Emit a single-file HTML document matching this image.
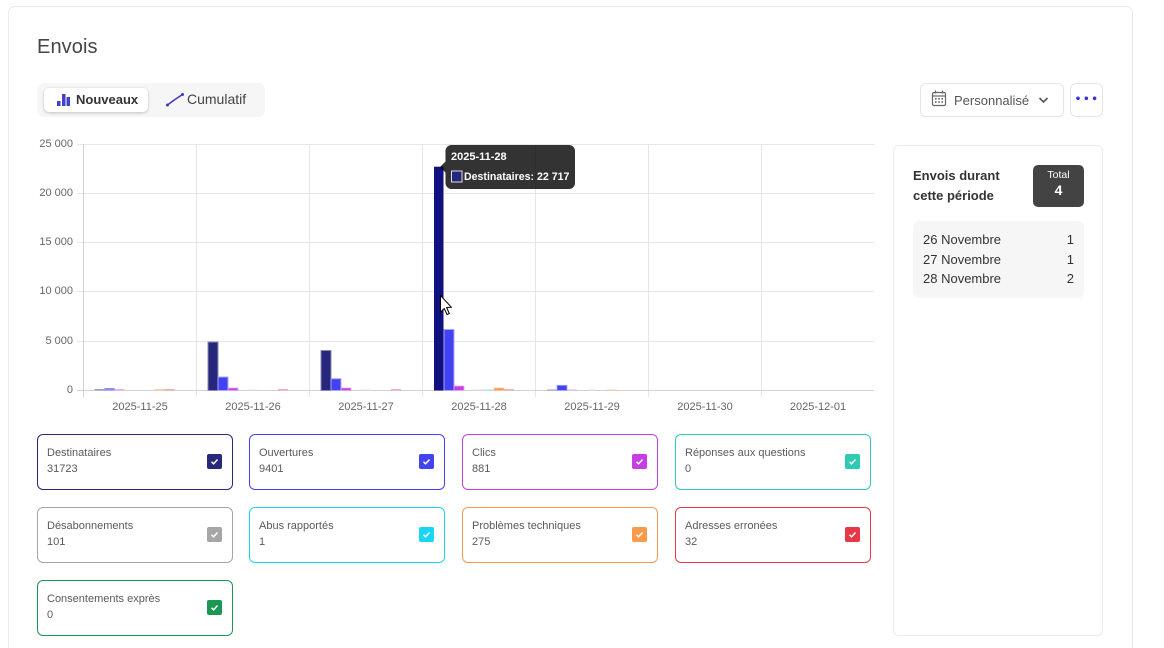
<!DOCTYPE html>
<html style="width:1164px;height:648px;overflow:hidden"><head><meta charset="utf-8">
<style>
*{box-sizing:border-box;margin:0;padding:0}
body{width:1164px;height:648px;background:#fff;font-family:"Liberation Sans",Arial,sans-serif;position:relative;overflow:hidden;color:#333}
.abs{position:absolute}
.card{left:8px;top:6px;width:1125px;height:642px;border:1px solid #ebebeb;border-bottom:none;border-radius:7px 7px 0 0;background:#fff}
.title{left:37px;top:36px;font-size:20px;color:#454545;letter-spacing:0.1px}
.toggle{left:37px;top:83px;width:228px;height:34px;background:#f6f6f7;border-radius:7px}
.active{left:44px;top:88px;width:104px;height:24px;background:#fff;border-radius:5px;box-shadow:0 1px 3px rgba(0,0,0,0.22)}
.lg{border:1px solid;border-radius:6px;width:196px;height:56px;background:#fff}
.lg .l{position:absolute;left:9px;top:12px;font-size:11px;color:#5a5a5a}
.lg .v{position:absolute;left:9px;top:28px;font-size:11px;color:#5a5a5a}
.lg .cb{position:absolute;left:169px;top:19px;width:15px;height:15px;border-radius:2px}
.lg .cb svg{position:absolute;left:0;top:0}
.ylab{font-size:11px;color:#666;text-align:right;width:50px;left:23px}
.xlab{font-size:11px;color:#666;text-align:center;width:90px}
</style></head><body>
<div class="abs card"></div>
<div class="abs title">Envois</div>
<div class="abs toggle"></div>
<div class="abs active"></div>
<svg class="abs" style="left:0;top:0" width="300" height="130">
  <rect x="57" y="101" width="3.5" height="5" fill="#4242c6"/>
  <rect x="62" y="94" width="3.5" height="12" fill="#4242c6"/>
  <rect x="66.5" y="97" width="3.5" height="9" fill="#4242c6"/>
  <polyline points="167.5,105 173.5,100.5 182.5,94.5" fill="none" stroke="#3b3bc4" stroke-width="1.5"/>
  <circle cx="167.5" cy="105" r="1.5" fill="#3b3bc4"/>
  <circle cx="182.5" cy="94.5" r="1.5" fill="#3b3bc4"/>
</svg>
<div class="abs" style="left:76px;top:92px;font-size:13px;font-weight:bold;color:#333">Nouveaux</div>
<div class="abs" style="left:187px;top:91px;font-size:14px;color:#444">Cumulatif</div>

<!-- dropdown -->
<div class="abs" style="left:920px;top:83px;width:144px;height:34px;border:1px solid #e6e6e6;border-radius:6px"></div>
<svg class="abs" style="left:920px;top:83px" width="144" height="34">
  <rect x="12.5" y="9.5" width="13" height="13" rx="1.5" fill="none" stroke="#666" stroke-width="1.2"/>
  <line x1="12.5" y1="13" x2="25.5" y2="13" stroke="#666" stroke-width="1.2"/>
  <line x1="15.5" y1="7.5" x2="15.5" y2="10.5" stroke="#666" stroke-width="1.2"/>
  <line x1="22.5" y1="7.5" x2="22.5" y2="10.5" stroke="#666" stroke-width="1.2"/>
  <g fill="#666"><rect x="15" y="15" width="1.6" height="1.6"/><rect x="18.2" y="15" width="1.6" height="1.6"/><rect x="21.4" y="15" width="1.6" height="1.6"/><rect x="15" y="18.2" width="1.6" height="1.6"/><rect x="18.2" y="18.2" width="1.6" height="1.6"/><rect x="21.4" y="18.2" width="1.6" height="1.6"/></g>
  <polyline points="119.5,15 123.5,19 127.5,15" fill="none" stroke="#555" stroke-width="1.6"/>
</svg>
<div class="abs" style="left:954px;top:93px;font-size:13px;color:#555">Personnalisé</div>
<div class="abs" style="left:1070px;top:83px;width:33px;height:34px;border:1px solid #e6e6e6;border-radius:6px"></div>
<svg class="abs" style="left:1070px;top:83px" width="33" height="34">
  <circle cx="8" cy="15.3" r="1.8" fill="#3434cf"/><circle cx="16.3" cy="15.3" r="1.8" fill="#3434cf"/><circle cx="24.6" cy="15.3" r="1.8" fill="#3434cf"/>
</svg>

<!-- right panel -->
<div class="abs" style="left:893px;top:145px;width:210px;height:491px;border:1px solid #ececec;border-radius:6px"></div>
<div class="abs" style="left:913px;top:166px;font-size:13px;font-weight:bold;color:#333;line-height:20px">Envois durant<br>cette période</div>
<div class="abs" style="left:1033px;top:165px;width:51px;height:42px;background:#434343;border-radius:5px;color:#fff;text-align:center">
  <div style="font-size:10.5px;margin-top:4px">Total</div>
  <div style="font-size:14px;font-weight:bold;margin-top:1px">4</div>
</div>
<div class="abs" style="left:913px;top:221px;width:171px;height:77px;background:#f6f6f6;border-radius:6px"></div>
<div class="abs" style="left:923px;top:230px;width:151px;font-size:13px;color:#333;line-height:19.5px">
  <div style="display:flex;justify-content:space-between"><span>26 Novembre</span><span>1</span></div>
  <div style="display:flex;justify-content:space-between"><span>27 Novembre</span><span>1</span></div>
  <div style="display:flex;justify-content:space-between"><span>28 Novembre</span><span>2</span></div>
</div>

<!-- chart -->
<svg class="abs" style="left:0;top:0" width="900" height="420">
  <g stroke="#e6e6e6" stroke-width="1">
    <line x1="83" y1="144.5" x2="874" y2="144.5"/>
    <line x1="83" y1="193.5" x2="874" y2="193.5"/>
    <line x1="83" y1="242.5" x2="874" y2="242.5"/>
    <line x1="83" y1="291.5" x2="874" y2="291.5"/>
    <line x1="83" y1="341.5" x2="874" y2="341.5"/>
    <line x1="196.5" y1="144" x2="196.5" y2="397"/>
    <line x1="309.5" y1="144" x2="309.5" y2="397"/>
    <line x1="422.5" y1="144" x2="422.5" y2="397"/>
    <line x1="535.5" y1="144" x2="535.5" y2="397"/>
    <line x1="648.5" y1="144" x2="648.5" y2="397"/>
    <line x1="761.5" y1="144" x2="761.5" y2="397"/>
    <line x1="77" y1="144.5" x2="83" y2="144.5"/>
    <line x1="77" y1="193.5" x2="83" y2="193.5"/>
    <line x1="77" y1="242.5" x2="83" y2="242.5"/>
    <line x1="77" y1="291.5" x2="83" y2="291.5"/>
    <line x1="77" y1="341.5" x2="83" y2="341.5"/>
  </g>
  <g stroke="#d2d2d2" stroke-width="1">
    <line x1="83.5" y1="144" x2="83.5" y2="397"/>
    <line x1="77" y1="390.5" x2="874" y2="390.5"/>
  </g>
  <g>
    <rect x="94.5" y="389" width="10" height="1.5" fill="#9a9ac8"/>
    <rect x="104.5" y="388" width="10" height="2.5" fill="#8c8cf2"/>
    <rect x="114.5" y="389" width="10" height="1.5" fill="#e6b0f2"/>
    <rect x="154.5" y="389" width="10" height="1.5" fill="#fbd0ac"/>
    <rect x="164.5" y="389" width="10" height="1.5" fill="#f4a8b0"/>
    <rect x="208" y="342" width="10" height="48.5" fill="#26267a" stroke="#8a8ab8" stroke-width="1"/>
    <rect x="218" y="377" width="10" height="13.5" fill="#4242f2" stroke="#a8a8f8" stroke-width="1"/>
    <rect x="228" y="388" width="10" height="2.5" fill="#c640e6" stroke="#e3a6f3" stroke-width="0.8"/>
    <rect x="248" y="389.5" width="10" height="1" fill="#e0e0e0"/>
    <rect x="278" y="389" width="10" height="1.5" fill="#f4b0b8"/>
    <rect x="321" y="350.5" width="10" height="40" fill="#26267a" stroke="#8a8ab8" stroke-width="1"/>
    <rect x="331" y="378.7" width="10" height="11.8" fill="#4242f2" stroke="#a8a8f8" stroke-width="1"/>
    <rect x="341" y="388" width="10" height="2.5" fill="#c640e6" stroke="#e3a6f3" stroke-width="0.8"/>
    <rect x="361" y="389.5" width="10" height="1" fill="#e0e0e0"/>
    <rect x="391" y="389" width="10" height="1.5" fill="#f4b0b8"/>
    <rect x="434" y="166.7" width="9.5" height="223.8" fill="#10107e"/>
    <rect x="444" y="329.5" width="10" height="61" fill="#4242f2" stroke="#a8a8f8" stroke-width="1"/>
    <rect x="454" y="386" width="10" height="4.5" fill="#c640e6" stroke="#e3a6f3" stroke-width="0.8"/>
    <rect x="474" y="389.5" width="10" height="1" fill="#e0e0e0"/>
    <rect x="484" y="389.5" width="10" height="1" fill="#9beaf8"/>
    <rect x="494" y="388" width="10" height="2.5" fill="#f89c4c" stroke="#fbc89c" stroke-width="0.8"/>
    <rect x="504" y="389" width="10" height="1.5" fill="#f4b0b8"/>
    <rect x="547" y="389.5" width="10" height="1" fill="#9a9ac8"/>
    <rect x="557" y="385.3" width="10" height="5.2" fill="#4242f2" stroke="#a8a8f8" stroke-width="0.8"/>
    <rect x="567" y="389.5" width="10" height="1" fill="#e6b0f2"/>
    <rect x="587" y="389.5" width="10" height="1" fill="#e0e0e0"/>
    <rect x="607" y="389.5" width="10" height="1" fill="#fbd0ac"/>
  </g>
  <path d="M451.5,145 H569 A6,6 0 0 1 575,151 V183 A6,6 0 0 1 569,189 H451.5 A6,6 0 0 1 445.5,183 V172.5 L440,167 L445.5,161.5 V151 A6,6 0 0 1 451.5,145 Z" fill="rgba(0,0,0,0.8)"/>
  <rect x="451.5" y="171" width="10.5" height="11" fill="#26267a" stroke="#dcdcf0" stroke-width="1"/>
  <text x="451" y="160" font-family="Liberation Sans, Arial, sans-serif" font-size="11" font-weight="bold" fill="#fff">2025-11-28</text>
  <text x="464" y="180" font-family="Liberation Sans, Arial, sans-serif" font-size="10.6" font-weight="bold" fill="#fff">Destinataires: 22 717</text>
  <path d="M440.5,295.5 V312 L444.2,308.5 L447,314.5 L449.3,313.5 L446.6,307.5 L451.5,307.3 Z" fill="#fff" stroke="#000" stroke-width="1" stroke-linejoin="round"/>
</svg>
<div class="abs ylab" style="top:138px">25 000</div>
<div class="abs ylab" style="top:187px">20 000</div>
<div class="abs ylab" style="top:236px">15 000</div>
<div class="abs ylab" style="top:285px">10 000</div>
<div class="abs ylab" style="top:335px">5 000</div>
<div class="abs ylab" style="top:384px">0</div>
<div class="abs xlab" style="left:95px;top:401px">2025-11-25</div>
<div class="abs xlab" style="left:208px;top:401px">2025-11-26</div>
<div class="abs xlab" style="left:321px;top:401px">2025-11-27</div>
<div class="abs xlab" style="left:434px;top:401px">2025-11-28</div>
<div class="abs xlab" style="left:547px;top:401px">2025-11-29</div>
<div class="abs xlab" style="left:660px;top:401px">2025-11-30</div>
<div class="abs xlab" style="left:773px;top:401px">2025-12-01</div>

<div class="abs lg" style="left:37px;top:434px;border-color:#2a2a7c"><div class="l">Destinataires</div><div class="v">31723</div><div class="cb" style="background:#29297b"><svg width="15" height="15"><polyline points="4.5,7.8 6.6,9.8 10.5,5.5" fill="none" stroke="#fff" stroke-width="1.5"/></svg></div></div>
<div class="abs lg" style="left:249px;top:434px;border-color:#4343f0"><div class="l">Ouvertures</div><div class="v">9401</div><div class="cb" style="background:#4343f0"><svg width="15" height="15"><polyline points="4.5,7.8 6.6,9.8 10.5,5.5" fill="none" stroke="#fff" stroke-width="1.5"/></svg></div></div>
<div class="abs lg" style="left:462px;top:434px;border-color:#c53fe5"><div class="l">Clics</div><div class="v">881</div><div class="cb" style="background:#c53fe5"><svg width="15" height="15"><polyline points="4.5,7.8 6.6,9.8 10.5,5.5" fill="none" stroke="#fff" stroke-width="1.5"/></svg></div></div>
<div class="abs lg" style="left:675px;top:434px;border-color:#2ecab4"><div class="l">Réponses aux questions</div><div class="v">0</div><div class="cb" style="background:#2ecab4"><svg width="15" height="15"><polyline points="4.5,7.8 6.6,9.8 10.5,5.5" fill="none" stroke="#fff" stroke-width="1.5"/></svg></div></div>

<div class="abs lg" style="left:37px;top:507px;border-color:#a6a6a6"><div class="l">Désabonnements</div><div class="v">101</div><div class="cb" style="background:#a6a6a6"><svg width="15" height="15"><polyline points="4.5,7.8 6.6,9.8 10.5,5.5" fill="none" stroke="#fff" stroke-width="1.5"/></svg></div></div>
<div class="abs lg" style="left:249px;top:507px;border-color:#1ad5f3"><div class="l">Abus rapportés</div><div class="v">1</div><div class="cb" style="background:#1ad5f3"><svg width="15" height="15"><polyline points="4.5,7.8 6.6,9.8 10.5,5.5" fill="none" stroke="#fff" stroke-width="1.5"/></svg></div></div>
<div class="abs lg" style="left:462px;top:507px;border-color:#f89c4c"><div class="l">Problèmes techniques</div><div class="v">275</div><div class="cb" style="background:#f89c4c"><svg width="15" height="15"><polyline points="4.5,7.8 6.6,9.8 10.5,5.5" fill="none" stroke="#fff" stroke-width="1.5"/></svg></div></div>
<div class="abs lg" style="left:675px;top:507px;border-color:#e63847"><div class="l">Adresses erronées</div><div class="v">32</div><div class="cb" style="background:#e63847"><svg width="15" height="15"><polyline points="4.5,7.8 6.6,9.8 10.5,5.5" fill="none" stroke="#fff" stroke-width="1.5"/></svg></div></div>

<div class="abs lg" style="left:37px;top:580px;border-color:#1a9752"><div class="l">Consentements exprès</div><div class="v">0</div><div class="cb" style="background:#1a9752"><svg width="15" height="15"><polyline points="4.5,7.8 6.6,9.8 10.5,5.5" fill="none" stroke="#fff" stroke-width="1.5"/></svg></div></div>
</body></html>
